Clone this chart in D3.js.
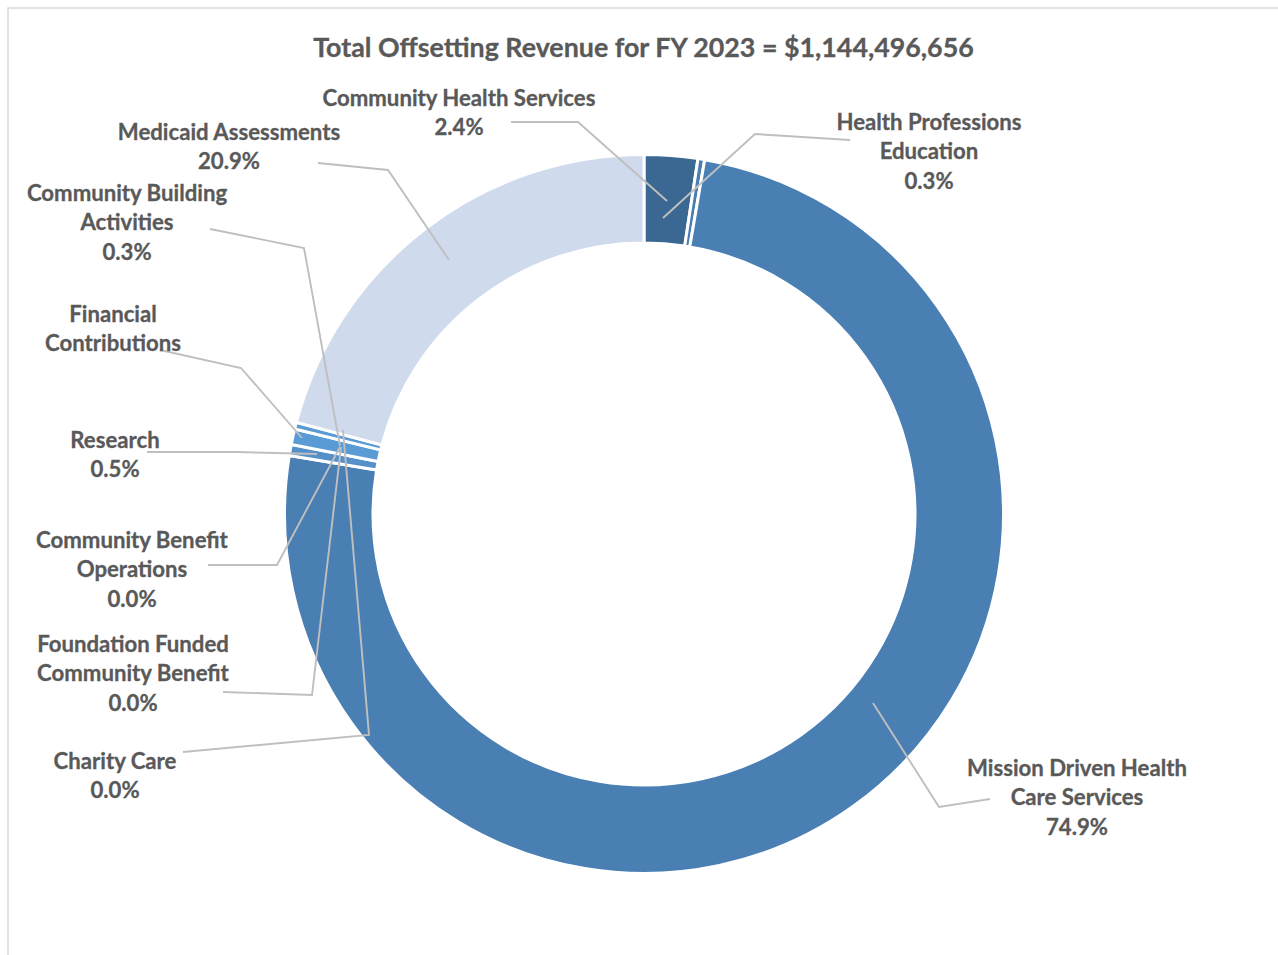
<!DOCTYPE html>
<html>
<head>
<meta charset="utf-8">
<script src="https://cdn.jsdelivr.net/npm/d3@7"></script>
<style>
  html, body { margin: 0; padding: 0; background: #fff; }
  svg { display: block; }
  text { font-family: Lato, "Open Sans", sans-serif; font-weight: 700; fill: #595959; }
</style>
</head>
<body>
<svg id="chart" width="1278" height="955"></svg>
<script>
// Offsetting revenue categories, clockwise from 12 o'clock
const categories = [
  "Community Health Services",
  "Health Professions Education",
  "Mission Driven Health Care Services",
  "Charity Care",
  "Foundation Funded Community Benefit",
  "Community Benefit Operations",
  "Research",
  "Financial Contributions",
  "Community Building Activities",
  "Medicaid Assessments"
];
// Share of total offsetting revenue, percent
const shares = [2.4, 0.3, 74.9, 0.0, 0.0, 0.0, 0.5, 0.7, 0.3, 20.9];
// Whether the label shows the percentage
const showPercent = [true, true, true, true, true, true, true, false, true, true];
const titleText = "Total Offsetting Revenue for FY 2023 = $1,144,496,656";

const sliceColors = ["#3b6892", "#4a7eb3", "#4a7fb4", "#4a7fb4", "#4a7fb4", "#4a7fb4",
                     "#5590cb", "#5b9bd5", "#5b9bd5", "#cfdbed"];

// Label placement: line breaks, centre x, first-line centre y, leader polyline
const labelLayout = [
  { lines: ["Community Health Services"], x: 459, y: 97,
    leader: [[511, 122], [578, 122], [667, 201]] },
  { lines: ["Health Professions", "Education"], x: 929, y: 121,
    leader: [[850, 140], [755, 134], [663, 218]] },
  { lines: ["Mission Driven Health", "Care Services"], x: 1077, y: 767,
    leader: [[990, 799], [939, 807], [873, 703]] },
  { lines: ["Charity Care"], x: 115, y: 760,
    leader: [[183, 752], [369, 735], [343, 430]] },
  { lines: ["Foundation Funded", "Community Benefit"], x: 133, y: 643,
    leader: [[223, 692], [312, 695], [341, 447]] },
  { lines: ["Community Benefit", "Operations"], x: 132, y: 539,
    leader: [[208, 565], [277, 565], [340, 447]] },
  { lines: ["Research"], x: 115, y: 439,
    leader: [[147, 452], [237, 452], [317, 454]] },
  { lines: ["Financial", "Contributions"], x: 113, y: 313,
    leader: [[160, 350], [241, 368], [302, 438]] },
  { lines: ["Community Building", "Activities"], x: 127, y: 192,
    leader: [[210, 229], [304, 248], [340, 446]] },
  { lines: ["Medicaid Assessments"], x: 229, y: 131,
    leader: [[318, 163], [388, 170], [449, 260]] }
];

const data = categories.map((c, i) => ({ name: c, value: shares[i], showPct: showPercent[i], i }));

const svg = d3.select("#chart");
const W = 1278, H = 955;
const cx = 644, cy = 514, outerR = 359.5, innerR = 271;
const lineGap = 29.5;
const fmt = d3.format(".1f");

// chart frame
svg.append("rect")
  .attr("x", 8).attr("y", 8)
  .attr("width", W + 20).attr("height", H + 20)
  .attr("fill", "#fff")
  .attr("stroke", "#d9d9d9").attr("stroke-width", 1.5);

// fit font sizes to the intended text widths
function fitSize(str, targetWidth, base) {
  const t = svg.append("text").attr("font-size", base).text(str);
  const w = t.node().getComputedTextLength();
  t.remove();
  return base * targetWidth / w;
}
const titleSize = fitSize(titleText, 661, 24);
const labelSize = fitSize("Community Health Services", 273, 20);

svg.append("text")
  .attr("x", 643.5).attr("y", 47)
  .attr("text-anchor", "middle")
  .attr("dominant-baseline", "central")
  .attr("font-size", titleSize)
  .attr("stroke", "#595959").attr("stroke-width", 0.3)
  .text(titleText);

// donut
const pie = d3.pie().sort(null).value(d => d.value).startAngle(0).endAngle(2 * Math.PI);
const arc = d3.arc().innerRadius(innerR).outerRadius(outerR);
const g = svg.append("g").attr("transform", `translate(${cx},${cy})`);
g.selectAll("path.slice")
  .data(pie(data).filter(d => d.data.value > 0))
  .join("path")
  .attr("class", "slice")
  .attr("d", arc)
  .attr("fill", d => sliceColors[d.data.i])
  .attr("stroke", "#fff")
  .attr("stroke-width", 3)
  .attr("stroke-linejoin", "miter");

// leader lines
const line = d3.line();
svg.append("g").selectAll("path")
  .data(labelLayout)
  .join("path")
  .attr("d", d => line(d.leader))
  .attr("fill", "none")
  .attr("stroke", "#bfbfbf")
  .attr("stroke-width", 1.9);

// labels
const lab = svg.append("g").selectAll("text")
  .data(data)
  .join("text")
  .attr("text-anchor", "middle")
  .attr("font-size", labelSize)
  .attr("stroke", "#595959").attr("stroke-width", 0.3);
lab.each(function (d) {
  const L = labelLayout[d.i];
  const rows = L.lines.slice();
  if (d.showPct) rows.push(fmt(d.value) + "%");
  d3.select(this).selectAll("tspan")
    .data(rows)
    .join("tspan")
    .attr("x", L.x)
    .attr("y", (r, k) => L.y + k * lineGap)
    .attr("dominant-baseline", "central")
    .text(r => r);
});
</script>
</body>
</html>
